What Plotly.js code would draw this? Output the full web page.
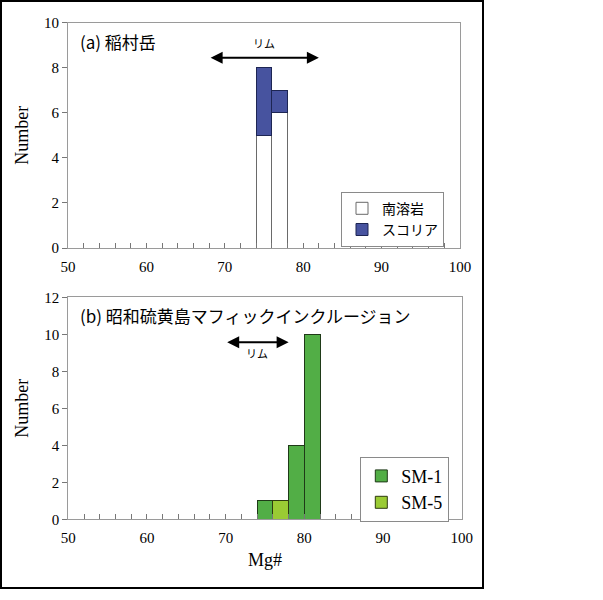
<!DOCTYPE html>
<html>
<head>
<meta charset="utf-8">
<script src="https://cdn.plot.ly/plotly-3.0.1.min.js"></script>
<style>html,body{margin:0;padding:0;background:#fff;}#chart{width:603px;height:600px;}</style>
</head>
<body>
<div id="chart"></div>
<script>
// Bin centres (Mg#, bin width 2)
const binsA = [75, 77];
const minamiLava = [5, 6];      // 南溶岩
const scoria = [3, 1];          // スコリア
const binsSM1 = [75, 79, 81];
const sm1 = [1, 4, 10];         // SM-1
const binsSM5 = [77];
const sm5 = [1];                // SM-5
const binWidth = 2;
const xTicks = [50, 60, 70, 80, 90, 100];
const rimA = [68, 82];
const rimB = [70, 78];

const serif = "Liberation Serif";
const jp = "Noto Sans CJK JP";

const W = 603, H = 600;
const px = v => v / W;
const py = v => 1 - v / H;

const traces = [
  {type: 'bar', x: binsA, y: minamiLava, width: binWidth, name: '南溶岩', xaxis: 'x', yaxis: 'y',
   marker: {color: '#ffffff', line: {color: '#6a6a6a', width: 1}}, legend: 'legend'},
  {type: 'bar', x: binsA, y: scoria, width: binWidth, name: 'スコリア', xaxis: 'x', yaxis: 'y',
   marker: {color: '#47539f', line: {color: '#1d2553', width: 1}}, legend: 'legend'},
  {type: 'bar', x: binsSM1, y: sm1, width: binWidth, name: 'SM-1', xaxis: 'x2', yaxis: 'y2',
   marker: {color: '#52ae46', line: {color: '#1f3a18', width: 1}}, legend: 'legend2'},
  {type: 'bar', x: binsSM5, y: sm5, width: binWidth, name: 'SM-5', xaxis: 'x2', yaxis: 'y2',
   marker: {color: '#9acb34', line: {color: '#2e3a10', width: 1}}, legend: 'legend2'}
];

const axisCommon = {
  showgrid: false, zeroline: false, showline: true, linecolor: '#9a9a9a', linewidth: 1, mirror: true
};

function xAxis(extra) {
  return Object.assign({}, axisCommon, {
    range: [50, 100], tickvals: xTicks, ticktext: xTicks.map(String),
    ticks: 'inside', ticklen: 5, tickcolor: '#777', ticklabelstandoff: 5,
    minor: {dtick: 2, tick0: 50, ticks: 'inside', ticklen: 5, tickcolor: '#777'},
    tickfont: {family: serif, size: 15, color: '#000'}
  }, extra);
}
function yAxis(extra) {
  return Object.assign({}, axisCommon, {
    dtick: 2, ticks: 'outside', ticklen: 5, tickcolor: '#777',
    tickfont: {family: serif, size: 15, color: '#000'},
    title: {text: 'Number', font: {family: serif, size: 18, color: '#000'}, standoff: 10}
  }, extra);
}

const layout = {
  width: W, height: H,
  margin: {l: 0, r: 0, t: 0, b: 0},
  paper_bgcolor: '#fff', plot_bgcolor: '#fff',
  font: {family: serif},
  barmode: 'stack', bargap: 0,
  showlegend: true,
  xaxis: xAxis({domain: [px(68), px(460)], anchor: 'y'}),
  yaxis: yAxis({domain: [py(248), py(22.7)], anchor: 'x', range: [0, 10]}),
  xaxis2: xAxis({domain: [px(68.3), px(461.7)], anchor: 'y2',
    title: {text: 'Mg#', font: {family: serif, size: 18, color: '#000'}, standoff: 8}}),
  yaxis2: yAxis({domain: [py(519.3), py(297.3)], anchor: 'x2', range: [0, 12]}),
  legend: {
    x: px(444), xanchor: 'right', y: py(191.7), yanchor: 'top',
    bordercolor: '#8a8a8a', borderwidth: 1, bgcolor: '#fff',
    font: {family: jp, size: 14, color: '#000'}, itemwidth: 30, traceorder: 'normal',
    tracegroupgap: 0
  },
  legend2: {
    x: px(449.3), xanchor: 'right', y: py(456.7), yanchor: 'top',
    bordercolor: '#8a8a8a', borderwidth: 1, bgcolor: '#fff',
    font: {family: serif, size: 18, color: '#000'}, itemwidth: 30, traceorder: 'normal',
    tracegroupgap: 0
  },
  annotations: [
    {xref: 'x domain', yref: 'y domain', x: 0.0247, y: 0.9157, xanchor: 'left', yanchor: 'middle',
     text: '(a) 稲村岳', showarrow: false, font: {family: jp, size: 17, color: '#000'}},
    {xref: 'x2 domain', yref: 'y2 domain', x: 0.0239, y: 0.920, xanchor: 'left', yanchor: 'middle',
     text: '(b) 昭和硫黄島マフィックインクルージョン', showarrow: false, font: {family: jp, size: 17, color: '#000'}},
    // rim arrows (a)
    {xref: 'x', yref: 'y', axref: 'x', ayref: 'y', x: rimA[1], y: 8.44, ax: rimA[0], ay: 8.44,
     text: '', showarrow: true, arrowhead: 2, arrowside: 'end+start', arrowsize: 1.2, arrowwidth: 2, arrowcolor: '#000'},
    {xref: 'x', yref: 'y', x: (rimA[0] + rimA[1]) / 2, y: 9.1, text: 'リム', showarrow: false,
     font: {family: jp, size: 11, color: '#000'}},
    // rim arrows (b)
    {xref: 'x2', yref: 'y2', axref: 'x2', ayref: 'y2', x: rimB[1], y: 9.57, ax: rimB[0], ay: 9.57,
     text: '', showarrow: true, arrowhead: 2, arrowside: 'end+start', arrowsize: 1.2, arrowwidth: 2, arrowcolor: '#000'},
    {xref: 'x2', yref: 'y2', x: (rimB[0] + rimB[1]) / 2, y: 8.97, text: 'リム', showarrow: false,
     font: {family: jp, size: 11, color: '#000'}}
  ],
  shapes: [
    {type: 'rect', xref: 'paper', yref: 'paper', x0: px(1), x1: px(483), y0: py(588), y1: py(1),
     line: {color: '#000', width: 2}, fillcolor: 'rgba(0,0,0,0)', layer: 'above'}
  ]
};

Plotly.newPlot('chart', traces, layout, {staticPlot: true, displayModeBar: false});
</script>
</body>
</html>
